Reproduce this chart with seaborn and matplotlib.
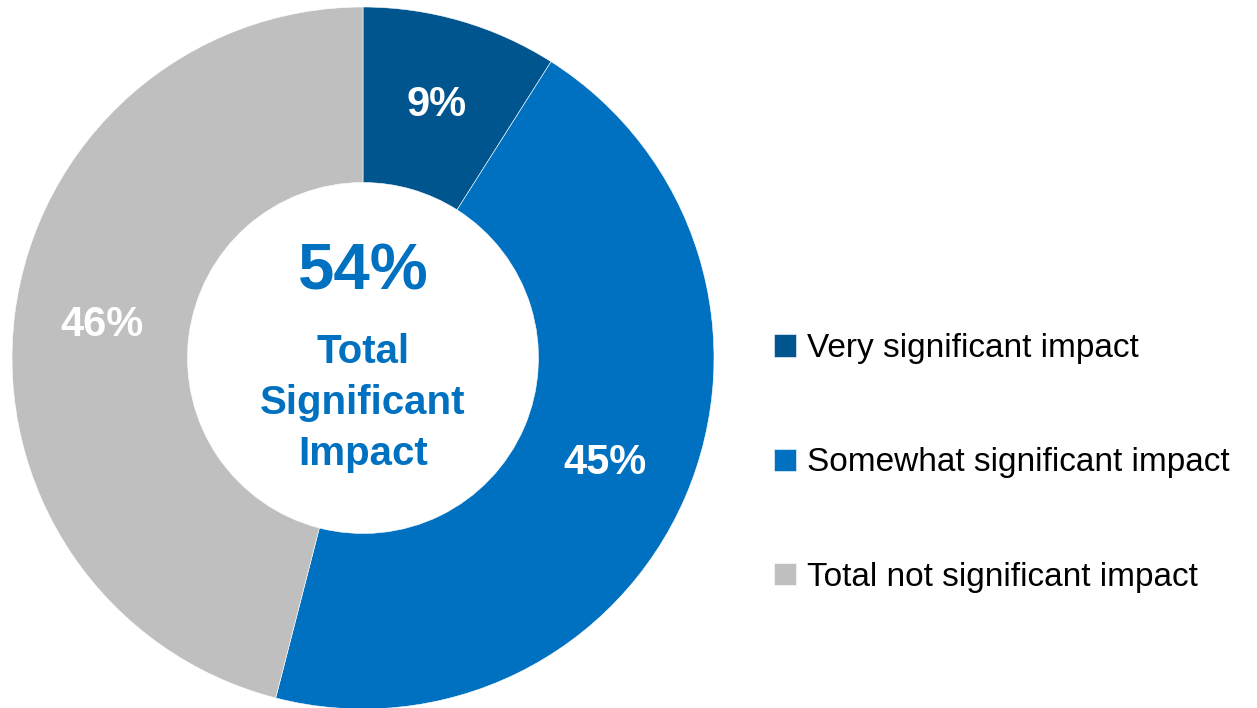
import matplotlib
matplotlib.use('Agg')
import matplotlib.pyplot as plt
import seaborn as sns

# data
categories = ['Very significant impact', 'Somewhat significant impact', 'Total not significant impact']
values = [9, 45, 46]
colors = ['#00558F', '#0070C0', '#BFBFBF']
center_value = '54%'
center_label = 'Total\nSignificant\nImpact'

sns.set_theme(style='white')
plt.rcParams['font.family'] = ['Liberation Sans', 'DejaVu Sans']

fig = plt.figure(figsize=(12.57, 7.08), dpi=100)
W, H = 1257, 708
cx, cy, R = 363, 358, 351
ax = fig.add_axes([(cx - R) / W, (H - cy - R) / H, 2 * R / W, 2 * R / H])

wedges, texts = ax.pie(values, colors=colors, startangle=90, counterclock=False,
                       radius=1, wedgeprops=dict(width=0.5, edgecolor='white', linewidth=0.4),
                       labels=[f'{v}%' for v in values], labeldistance=0.75,
                       textprops=dict(color='white', fontsize=30, fontweight='bold'))
for t in texts:
    t.set_ha('center')
    t.set_va('center')

ax.set_xlim(-1, 1)
ax.set_ylim(-1, 1)
ax.set_aspect('equal')
ax.axis('off')

ax.text(0, (358 - 272) / R, center_value, color='#0070C0', fontsize=47, fontweight='bold',
        ha='center', va='center')
ax.text(0, (358 - 403) / R, center_label, color='#0070C0', fontsize=29, fontweight='bold',
        ha='center', va='center', linespacing=1.42)

leg = fig.legend(wedges, categories, loc='center left', bbox_to_anchor=(774 / W, 1 - 463 / H),
                 frameon=False, fontsize=24, handlelength=0.66, handleheight=0.66,
                 handletextpad=0.33, labelspacing=2.5, borderpad=0, borderaxespad=0)
for t in leg.get_texts():
    t.set_color('black')

fig.savefig('out.png', dpi=100)
